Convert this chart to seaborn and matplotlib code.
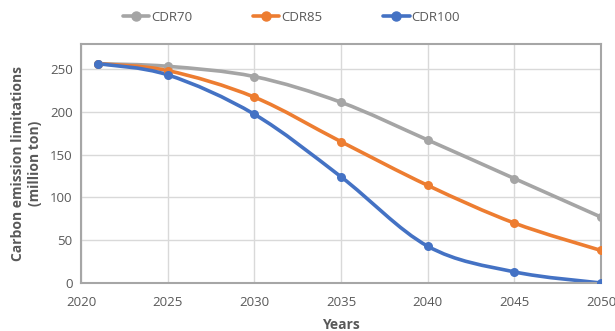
import matplotlib
matplotlib.use("Agg")
import matplotlib.pyplot as plt
from matplotlib.path import Path
from matplotlib.patches import PathPatch
import seaborn as sns
import pandas as pd
import numpy as np

years = [2021, 2025, 2030, 2035, 2040, 2045, 2050]
cdr70 = [256, 253, 241, 211, 167, 122, 77]
cdr85 = [256, 248, 217, 165, 114, 70, 38]
cdr100 = [256, 243, 197, 124, 43, 13, 0]
series_names = ["CDR70", "CDR85", "CDR100"]
colors = ["#A5A5A5", "#ED7D31", "#4472C4"]

df = pd.DataFrame({"Years": years * 3,
                   "Value": cdr70 + cdr85 + cdr100,
                   "Scenario": [n for n in series_names for _ in years]})

sns.set_style("white")
plt.rcParams["font.family"] = ["Open Sans", "DejaVu Sans"]
grey_txt = "#595959"


def smooth_path(x, y, t=1 / 6):
    # Excel-like smoothed line as cubic Bezier segments through the data points
    x = np.asarray(x, float)
    y = np.asarray(y, float)
    verts = [(x[0], y[0])]
    codes = [Path.MOVETO]
    n = len(x)
    for i in range(n - 1):
        p0 = i - 1 if i > 0 else i
        p3 = i + 2 if i + 2 < n else i + 1
        c1 = (x[i] + (x[i + 1] - x[p0]) * t, y[i] + (y[i + 1] - y[p0]) * t)
        c2 = (x[i + 1] - (x[p3] - x[i]) * t, y[i + 1] - (y[p3] - y[i]) * t)
        verts += [c1, c2, (x[i + 1], y[i + 1])]
        codes += [Path.CURVE4] * 3
    return Path(verts, codes)


fig = plt.figure(figsize=(6.15, 3.31), dpi=100)
ax = fig.add_axes([0.1317, 0.145, 0.8455, 0.722])

sns.lineplot(data=df, x="Years", y="Value", hue="Scenario", palette=colors,
             marker="o", markersize=6.5, markeredgewidth=0, linewidth=0,
             ax=ax, legend=False, zorder=3)

for name, vals, c in zip(series_names, [cdr70, cdr85, cdr100], colors):
    ax.add_patch(PathPatch(smooth_path(years, vals), facecolor="none",
                           edgecolor=c, linewidth=2.6, capstyle="round", zorder=2))
    ax.plot([], [], color=c, linewidth=2.6, marker="o", markersize=6.5, label=name)

ax.set_xlim(2020, 2050)
ax.set_ylim(0, 279)
ax.set_xticks(range(2020, 2051, 5))
ax.set_yticks(range(0, 251, 50))
ax.grid(True, color="#D9D9D9", linewidth=1)
ax.set_axisbelow(True)
for s in ax.spines.values():
    s.set_color("#A6A6A6")
    s.set_linewidth(1.5)
ax.tick_params(axis="y", colors=grey_txt, labelsize=9.5, length=0, pad=6)
ax.tick_params(axis="x", colors=grey_txt, labelsize=9.5, length=0, pad=9)
ax.set_xlabel("Years", fontsize=10, fontweight="bold", color=grey_txt, labelpad=7)
ax.set_ylabel("Carbon emission limitations\n(million ton)", fontsize=10,
              fontweight="bold", color=grey_txt, labelpad=6)

fig.legend(loc="center", bbox_to_anchor=(0.474, 0.947), ncol=3, frameon=False,
           fontsize=9.5, handlelength=2.0, handletextpad=0.15, columnspacing=4.6,
           labelcolor=grey_txt)

fig.savefig("out.png", dpi=100)
